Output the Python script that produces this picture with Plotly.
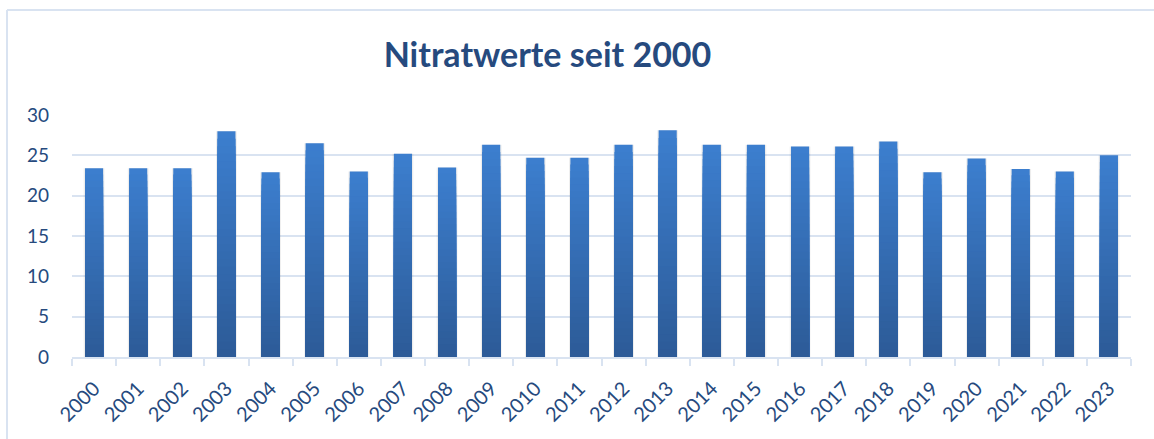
import plotly.graph_objects as go

years = [str(y) for y in range(2000, 2024)]
nitrat = [23.4, 23.4, 23.4, 28.0, 22.9, 26.5, 23.0, 25.2, 23.5, 26.3, 24.7, 24.7,
          26.3, 28.1, 26.3, 26.3, 26.1, 26.1, 26.7, 22.9, 24.6, 23.3, 23.0, 25.0]
title_text = "Nitratwerte seit 2000"
y_ticks = [0, 5, 10, 15, 20, 25, 30]

TEXT = "#264a7e"
GRID = "#d9e3f1"
TOP = (60, 126, 206)
BOTTOM = (44, 90, 150)

fig = go.Figure()

# soft shadow behind bars
fig.add_trace(go.Bar(x=years, y=nitrat, width=0.47, marker_color="rgba(0,0,0,0.07)",
                     marker_line_width=0, hoverinfo="skip", showlegend=False))

# gradient via overlay layers (per-bar fraction of height)
N = 30
for i in range(N):
    f = 1 - i / N
    c = tuple(round(BOTTOM[k] + (TOP[k] - BOTTOM[k]) * f) for k in range(3))
    fig.add_trace(go.Bar(
        x=years, y=[v * f for v in nitrat], width=0.41,
        marker=dict(color=f"rgb{c}", line_width=0),
        hoverinfo="skip" if i else "x+y", showlegend=False))

fig.update_layout(
    barmode="overlay",
    width=1154, height=439,
    margin=dict(l=72, r=23, t=115, b=82),
    paper_bgcolor="white", plot_bgcolor="white",
    font=dict(family="Lato, Carlito, sans-serif", color=TEXT),
    title=dict(text=f"<b>{title_text}</b>", x=547.5 / 1154, xanchor="center",
               y=1 - 55 / 439, yanchor="middle", yref="container",
               font=dict(size=34, color=TEXT)),
    xaxis=dict(type="category", showgrid=False, showline=True, linecolor=GRID, linewidth=2,
               ticks="outside", tickson="boundaries", ticklen=7, tickcolor=GRID, tickwidth=2,
               tickangle=-45, tickfont=dict(size=20, color=TEXT), ticklabelstandoff=10),
    yaxis=dict(range=[0, 30], tickvals=y_ticks, showgrid=True, gridcolor=GRID, gridwidth=2,
               zeroline=False, showline=False, ticks="",
               tickfont=dict(size=19, color=TEXT), ticklabelstandoff=22),
    shapes=[
        dict(type="line", xref="paper", yref="paper", x0=(7 - 72) / 1059, x1=(7 - 72) / 1059,
             y0=-0.5, y1=1 + (115 - 10) / 242, line=dict(color=GRID, width=2)),
        dict(type="line", xref="paper", yref="paper", x0=(7 - 72) / 1059, x1=1.1,
             y0=1 + (115 - 10) / 242, y1=1 + (115 - 10) / 242, line=dict(color=GRID, width=2)),
    ],
)

fig.write_html("out.html", config={"displayModeBar": False},
               post_script="document.body.style.margin='0';document.body.style.overflow='hidden';")
